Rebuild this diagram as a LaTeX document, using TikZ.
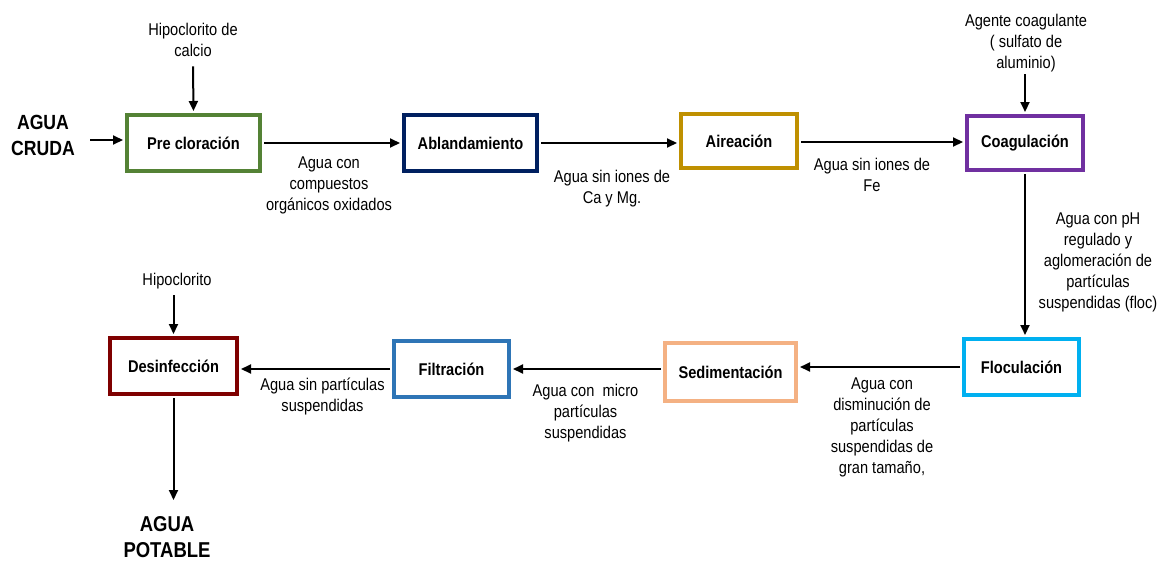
\documentclass[tikz,border=0pt]{standalone}
\usepackage{fontspec}
\setmainfont{Liberation Sans}[FakeStretch=0.86]
\usetikzlibrary{arrows.meta}
\tikzset{stage/.style = {draw, line width=4pt, fill=white, inner sep=0pt,
                         font=\fontsize{17}{21}\selectfont\bfseries},
         note/.style = {align=center, inner sep=0pt, font=\fontsize{17}{21}\selectfont},
         big/.style = {align=center, inner sep=0pt, font=\fontsize{20.5}{26}\selectfont\bfseries},
         flow/.style = {-{Triangle[length=10pt, width=9pt]}, line width=2pt,
                        shorten <=2pt, shorten >=2pt}}
\definecolor{mgreen}{HTML}{548235}
\definecolor{mnavy}{HTML}{002060}
\definecolor{mgold}{HTML}{BF9000}
\definecolor{mpurple}{HTML}{7030A0}
\definecolor{mcyan}{HTML}{00B0F0}
\definecolor{mpeach}{HTML}{F4B183}
\definecolor{mblue}{HTML}{2E75B6}
\definecolor{mred}{HTML}{7F0000}

\begin{document}
\begin{tikzpicture}[x=1pt, y=-1pt]
    \useasboundingbox (0, 0) rectangle (1166, 562);

    \node [stage, draw=mgreen, minimum width=133pt, minimum height=56pt] (pre) at (193.5, 143) {Pre cloración};
    \node [stage, draw=mnavy, minimum width=133pt, minimum height=56pt] (abland) at (470.5, 143) {Ablandamiento};
    \node [stage, draw=mgold, minimum width=116pt, minimum height=54pt] (aire) at (739, 141) {Aireación};
    \node [stage, draw=mpurple, minimum width=116pt, minimum height=54pt] (coag) at (1025, 143) {Coagulación};
    \node [stage, draw=mcyan, minimum width=115pt, minimum height=56pt] (floc) at (1021.5, 367) {Floculación};
    \node [stage, draw=mpeach, minimum width=131pt, minimum height=58pt] (sedim) at (730.5, 372) {Sedimentación};
    \node [stage, draw=mblue, minimum width=115pt, minimum height=56pt] (filt) at (451.5, 369) {Filtración};
    \node [stage, draw=mred, minimum width=127pt, minimum height=56pt] (desinf) at (173.5, 366) {Desinfección};

    \node [big] (cruda) at (43, 135) {AGUA\\CRUDA};
    \node [big, font=\fontsize{21.5}{26}\selectfont\bfseries] (potable) at (167, 537) {AGUA\\POTABLE};
    \coordinate (in) at (88, 140);
    \coordinate (out) at (173.5, 502);

    \node [note] (hcal) at (193, 39.5) {Hipoclorito de\\calcio};
    \node [note] (agente) at (1026, 43) {Agente coagulante\\( sulfato de\\aluminio)};
    \node [note] (hipo) at (177, 281) {Hipoclorito};

    \node [note] (l1) at (329, 185) {Agua con\\compuestos\\orgánicos oxidados};
    \node [note] (l2) at (612, 189) {Agua sin iones de\\Ca y Mg.};
    \node [note] (l3) at (872, 175) {Agua sin iones de\\Fe};
    \node [note] (l4) at (1098, 262) {Agua con pH\\regulado y\\aglomeración de\\partículas\\suspendidas (floc)};
    \node [note] (l5) at (882, 427) {Agua con\\disminución de\\partículas\\suspendidas de\\gran tamaño,};
    \node [note] (l6) at (585.5, 413) {Agua con\ \ micro\\partículas\\suspendidas};
    \node [note] (l7) at (322.5, 396.5) {Agua sin partículas\\suspendidas};

    \draw [flow] (in) -- (in -| pre.west);
    \draw [flow] ([yshift=-8pt]hcal.south) -- (pre.north);
    \draw [flow] (pre) -- (abland);
    \draw [flow] (abland.east) -- (abland.east -| aire.west);
    \draw [flow] ([yshift=-1pt]aire.east) -- ([yshift=-1pt]aire.east -| coag.west);
    \draw [flow] (agente.south -| coag.north) -- (coag.north);
    \draw [flow] (coag.south) -- (coag.south |- floc.north);
    \draw [flow] (floc.west) -- (floc.west -| sedim.east);
    \draw [flow] (filt.east -| sedim.west) -- (filt.east);
    \draw [flow] (filt.west) -- (filt.west -| desinf.east);
    \draw [flow] ([yshift=-4pt]hipo.south -| desinf.north) -- (desinf.north);
    \draw [flow] (desinf.south) -- (out);
  \end{tikzpicture}
\end{document}
